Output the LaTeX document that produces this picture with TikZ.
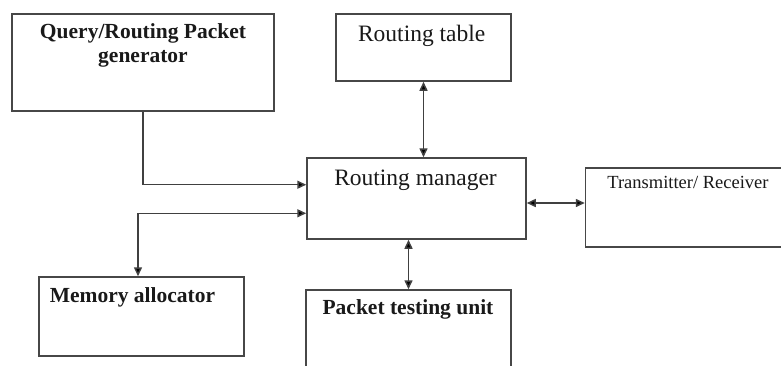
\documentclass[tikz,border=0pt]{standalone}
\usepackage{fontspec}
\setmainfont{Liberation Serif}
\usetikzlibrary{arrows.meta,calc}
\begin{document}
\begin{tikzpicture}[x=1pt,y=-1pt,
  blk/.style={draw=black!72,line width=1.5pt,inner sep=0pt},
  conn/.style={draw=black!75,line width=1.5pt,arrows={-Triangle[length=9pt,width=8pt,fill=black]}},
  bconn/.style={draw=black!75,line width=1.5pt,arrows={Triangle[length=9pt,width=8pt,fill=black]-Triangle[length=9pt,width=8pt,fill=black]}},
  lbl/.style={anchor=base,inner sep=0pt,text=black!90},
  nlab/.style={lbl,font=\fontsize{23.5}{26}\selectfont},
  blab/.style={lbl,font=\fontsize{21.5}{24}\selectfont\bfseries},
  slab/.style={lbl,font=\fontsize{18.5}{22}\selectfont}]
\clip (0,0) rectangle (781,365);
\fill[white] (0,0) rectangle (781,365);
% boxes
\node[blk,minimum width=262pt,minimum height=97pt] (qrp) at (143,62.5) {};
\node[blk,minimum width=175pt,minimum height=67pt] (rt) at (423.5,47.5) {};
\node[blk,minimum width=219pt,minimum height=81pt] (rm) at (416.5,198.5) {};
\node[blk,minimum width=205pt,minimum height=79pt] (tr) at (688,207.5) {};
\node[blk,minimum width=205pt,minimum height=79pt] (mem) at (141.5,316.5) {};
\node[blk,minimum width=205pt,minimum height=100pt] (pt) at (408.5,340) {};
% labels
\node[blab] (t1) at (143,38) {Query/Routing Packet};
\node[blab] (t2) at (143,62) {generator};
\node[nlab] (t3) at (421.7,41) {Routing table};
\node[nlab] (t4) at (415.5,185) {Routing manager};
\node[slab] (t5) at (688,188) {Transmitter/ Receiver};
\node[blab] (t6) at (132.5,302) {Memory allocator};
\node[blab] (t7) at (408,314) {Packet testing unit};
% connectors
\coordinate (rmA) at ($(rm.north west)!0.333!(rm.south west)$);
\coordinate (rmB) at ($(rm.north west)!0.679!(rm.south west)$);
\coordinate (rmC) at ($(rm.east)!0.5!(rm.east |- tr.west)$);
\coordinate (memT) at ($(mem.north)+(-3.5,0)$);
\draw[conn] (qrp.south) |- (rmA);
\draw[bconn] (memT) |- (rmB);
\draw[bconn] (rt.south) -- (rt.south |- rm.north);
\draw[bconn] (pt.north |- rm.south) -- (pt.north);
\draw[bconn] (rmC) -- (tr.west |- rmC);
\end{tikzpicture}
\end{document}
